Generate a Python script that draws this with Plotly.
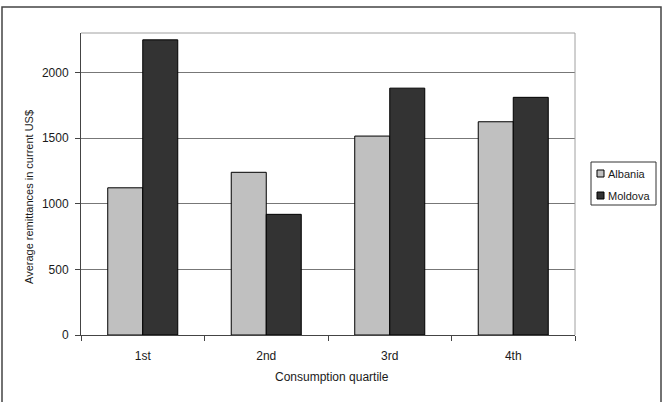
import plotly.graph_objects as go

categories = ["1st", "2nd", "3rd", "4th"]
albania = [1121, 1239, 1515, 1624]
moldova = [2248, 919, 1880, 1810]
series_names = ["Albania", "Moldova"]
series_colors = ["#c0c0c0", "#333333"]
y_ticks = [0, 500, 1000, 1500, 2000]

W, H = 666, 402
L, R, T, B = 81, 91, 33, 67
pw, ph = W - L - R, H - T - B

def px_x(px):
    return (px - L) / pw

def px_y(py):
    return (H - B - py) / ph

FONT = "Liberation Sans, Arial, sans-serif"
TXT = "#1a1a1a"

fig = go.Figure()
for name, vals, col in zip(series_names, [albania, moldova], series_colors):
    fig.add_trace(go.Bar(
        x=categories, y=vals, name=name,
        marker=dict(color=col, line=dict(color="#000000", width=1)),
        showlegend=False,
    ))

fig.update_layout(
    width=W, height=H,
    margin=dict(l=L, r=R, t=T, b=B, pad=0),
    paper_bgcolor="white", plot_bgcolor="white",
    barmode="group", bargap=0.433, bargroupgap=0,
    font=dict(family=FONT, size=12, color=TXT),
    xaxis=dict(
        type="category", tickson="boundaries", ticks="outside", ticklen=5,
        tickcolor="#444444", showline=True, linecolor="#444444", linewidth=1,
        showgrid=False, tickfont=dict(size=12, color=TXT),
        ticklabelstandoff=10,
    ),
    yaxis=dict(
        range=[0, 2300], tickvals=y_ticks, ticks="outside", ticklen=5,
        tickcolor="#444444", showline=True, linecolor="#444444", linewidth=1,
        showgrid=True, gridcolor="#777777", gridwidth=1,
        tickfont=dict(size=12, color=TXT), zeroline=False,
        ticklabelstandoff=4,
    ),
)

shapes = []
# plot area top/right border (light gray)
shapes.append(dict(type="line", xref="paper", yref="paper", x0=0, x1=1, y0=1, y1=1,
                   line=dict(color="#a0a0a0", width=1)))
shapes.append(dict(type="line", xref="paper", yref="paper", x0=1, x1=1, y0=0, y1=1,
                   line=dict(color="#a0a0a0", width=1)))
# outer chart border
shapes.append(dict(type="rect", xref="paper", yref="paper",
                   x0=px_x(2), x1=px_x(661), y0=px_y(420), y1=px_y(7),
                   line=dict(color="#444444", width=1.5), fillcolor="rgba(0,0,0,0)"))
# legend box
lx0, lx1, ly0, ly1 = 591, 656, 162, 205
shapes.append(dict(type="rect", xref="paper", yref="paper",
                   x0=px_x(lx0), x1=px_x(lx1), y0=px_y(ly1), y1=px_y(ly0),
                   line=dict(color="#333333", width=1), fillcolor="white"))
annotations = []
item_y = [173.5, 195.5]
for name, col, iy in zip(series_names, series_colors, item_y):
    shapes.append(dict(type="rect", xref="paper", yref="paper",
                       x0=px_x(597), x1=px_x(604), y0=px_y(iy + 3.5), y1=px_y(iy - 3.5),
                       line=dict(color="#000000", width=1), fillcolor=col))
    annotations.append(dict(xref="paper", yref="paper", x=px_x(606), y=px_y(iy),
                            text=name, showarrow=False, xanchor="left", yanchor="middle",
                            font=dict(size=11, color=TXT, family=FONT)))

annotations.append(dict(xref="paper", yref="paper", x=px_x(29), y=px_y(197),
                        text="Average remittances in current US$", textangle=-90,
                        showarrow=False, xanchor="center", yanchor="middle",
                        font=dict(size=11, color=TXT, family=FONT)))
annotations.append(dict(xref="paper", yref="paper", x=px_x(332), y=px_y(377),
                        text="Consumption quartile", showarrow=False,
                        xanchor="center", yanchor="middle",
                        font=dict(size=12, color=TXT, family=FONT)))

fig.update_layout(shapes=shapes, annotations=annotations)
fig.write_html("out.html")
